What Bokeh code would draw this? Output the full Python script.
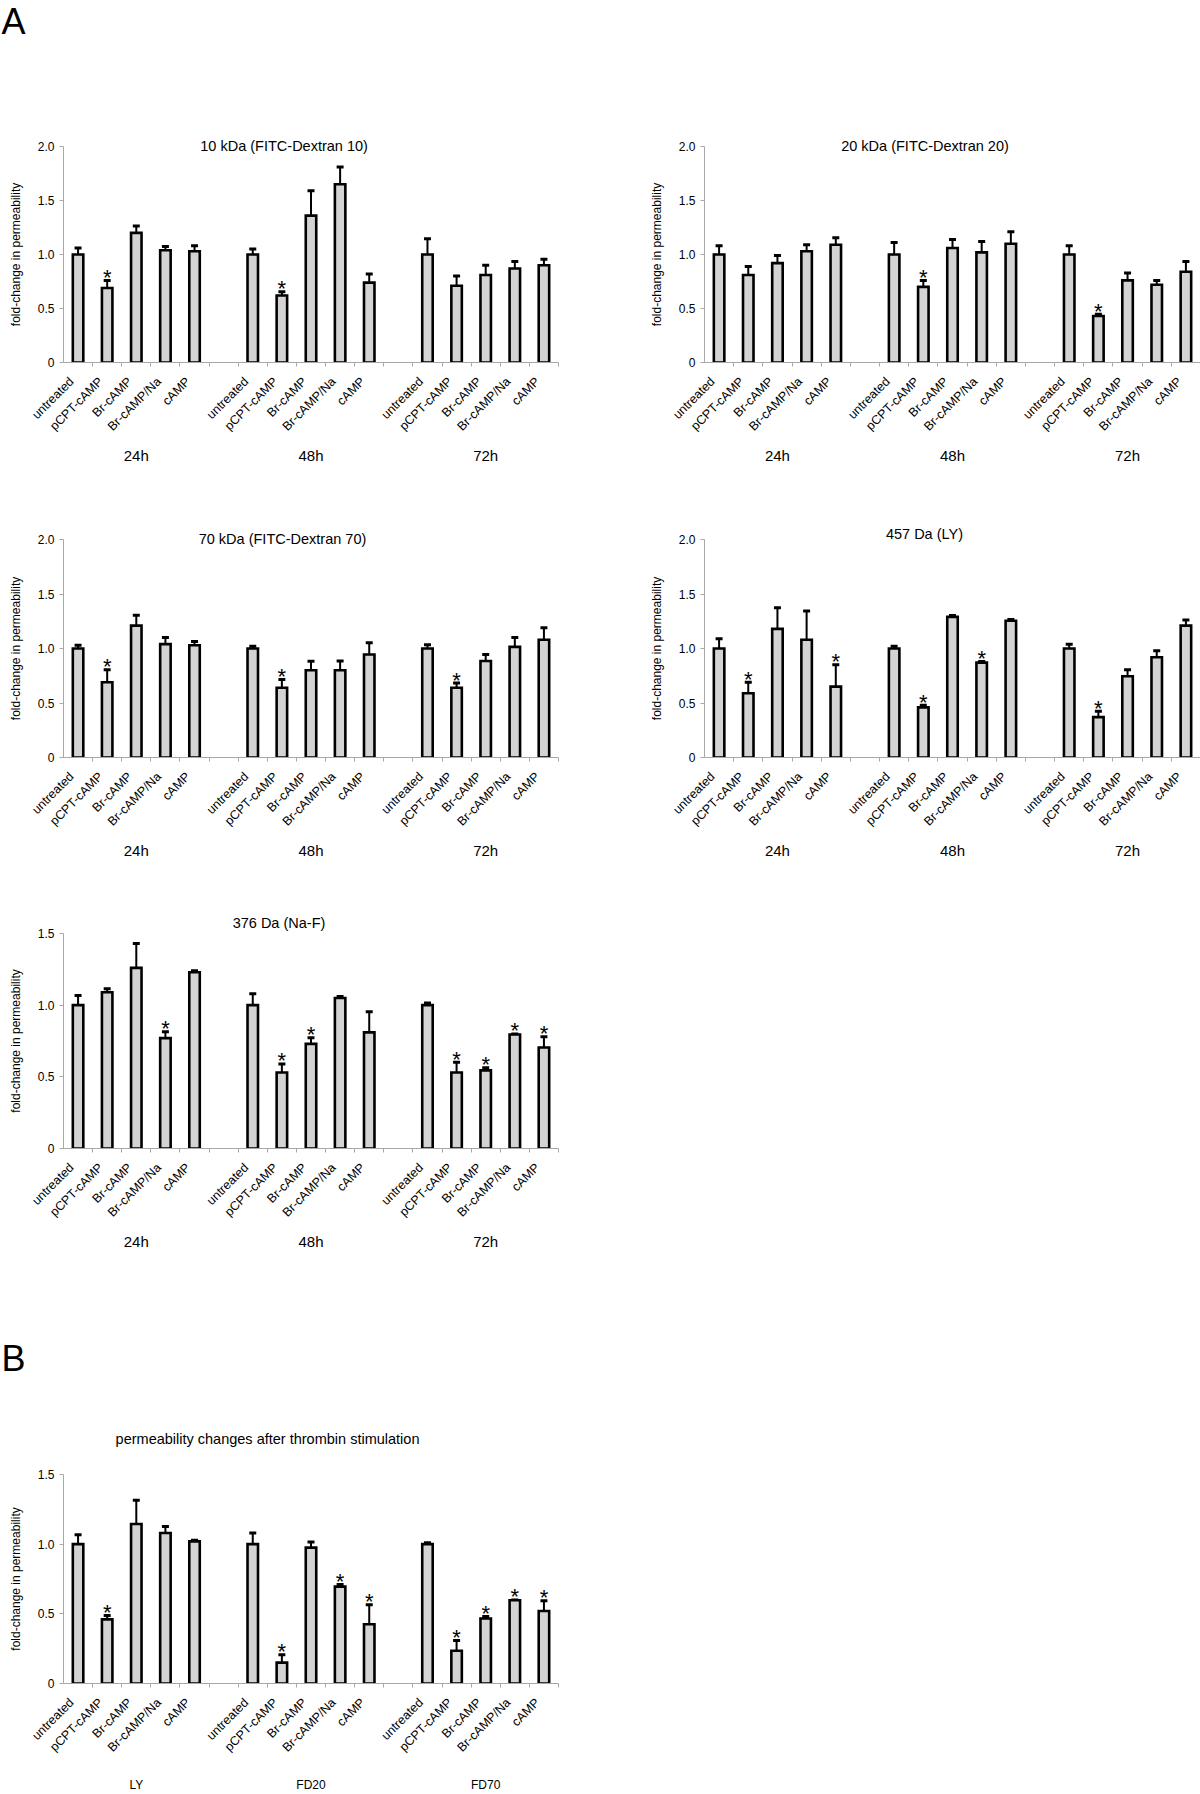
import math
from bokeh.plotting import figure
from bokeh.layouts import column, row
from bokeh.models import (ColumnDataSource, FixedTicker, CustomJSTickFormatter,
                          LinearAxis, Range1d, Title)
from bokeh.core.properties import value
from bokeh.embed import file_html
from bokeh.resources import INLINE

# ---------------- data ----------------
treatments = ["untreated", "pCPT-cAMP", "Br-cAMP", "Br-cAMP/Na", "cAMP"]
time_groups = ["24h", "48h", "72h"]
tracer_groups = ["LY", "FD20", "FD70"]

fd10_mean = [1.00, 0.69, 1.20, 1.04, 1.03, 1.00, 0.62, 1.36, 1.65, 0.74, 1.00, 0.71, 0.81, 0.87, 0.90]
fd10_err = [0.06, 0.07, 0.065, 0.035, 0.05, 0.05, 0.035, 0.23, 0.16, 0.08, 0.145, 0.09, 0.09, 0.065, 0.055]
fd10_sig = [0, 1, 0, 0, 0, 0, 1, 0, 0, 0, 0, 0, 0, 0, 0]

fd20_mean = [1.00, 0.81, 0.92, 1.03, 1.09, 1.00, 0.70, 1.06, 1.02, 1.10, 1.00, 0.43, 0.76, 0.72, 0.84]
fd20_err = [0.08, 0.08, 0.07, 0.06, 0.065, 0.11, 0.06, 0.08, 0.10, 0.11, 0.08, 0.017, 0.068, 0.04, 0.095]
fd20_sig = [0, 0, 0, 0, 0, 0, 1, 0, 0, 0, 0, 1, 0, 0, 0]

fd70_mean = [1.00, 0.69, 1.21, 1.04, 1.03, 1.00, 0.64, 0.80, 0.80, 0.945, 1.00, 0.64, 0.885, 1.015, 1.08]
fd70_err = [0.03, 0.115, 0.095, 0.06, 0.035, 0.02, 0.075, 0.083, 0.085, 0.107, 0.035, 0.043, 0.06, 0.085, 0.11]
fd70_sig = [0, 1, 0, 0, 0, 0, 1, 0, 0, 0, 0, 1, 0, 0, 0]

ly_mean = [1.00, 0.59, 1.18, 1.08, 0.65, 1.00, 0.46, 1.29, 0.87, 1.255, 1.00, 0.37, 0.745, 0.92, 1.21]
ly_err = [0.09, 0.10, 0.195, 0.265, 0.20, 0.02, 0.02, 0.012, 0.01, 0.01, 0.04, 0.055, 0.06, 0.06, 0.052]
ly_sig = [0, 1, 0, 0, 1, 0, 1, 0, 1, 0, 0, 1, 0, 0, 0]

naf_mean = [1.00, 1.09, 1.26, 0.77, 1.23, 1.00, 0.53, 0.73, 1.05, 0.81, 1.00, 0.53, 0.545, 0.795, 0.705]
naf_err = [0.068, 0.025, 0.17, 0.045, 0.01, 0.08, 0.06, 0.042, 0.011, 0.144, 0.015, 0.072, 0.019, 0.004, 0.075]
naf_sig = [0, 0, 0, 1, 0, 0, 1, 1, 0, 0, 0, 1, 1, 1, 1]

thr_mean = [1.00, 0.46, 1.145, 1.08, 1.02, 1.00, 0.15, 0.975, 0.695, 0.425, 1.00, 0.235, 0.467, 0.597, 0.52]
thr_err = [0.068, 0.028, 0.17, 0.046, 0.008, 0.08, 0.056, 0.04, 0.016, 0.14, 0.01, 0.074, 0.014, 0.003, 0.074]
thr_sig = [0, 1, 0, 0, 0, 0, 1, 0, 1, 1, 0, 1, 1, 1, 1]

y_ticks_20 = [0, 0.5, 1.0, 1.5, 2.0]
y_ticks_15 = [0, 0.5, 1.0, 1.5]

# ---------------- style ----------------
FONT = "Liberation Sans"
AXIS_GRAY = "#a8a8a8"
BAR_FILL = "#d3d3d3"
TITLE_PX = 14.5
LABEL_SHIFT = 0.22   # rotated labels end slightly left of the bar centre

# Arial / Liberation Sans advance widths (1/1000 em), used to centre titles
_W = {' ': 278, '(': 333, ')': 333, '-': 333, 'A': 667, 'C': 722, 'D': 722, 'F': 611,
      'I': 278, 'L': 556, 'N': 722, 'T': 611, 'Y': 667, 'a': 556, 'b': 556, 'c': 500,
      'e': 556, 'f': 278, 'g': 556, 'h': 556, 'i': 222, 'k': 500, 'l': 222, 'm': 833,
      'n': 556, 'o': 556, 'p': 556, 'r': 333, 's': 500, 't': 278, 'u': 556, 'x': 500,
      'y': 500}


def text_width(s, px):
    return sum(_W.get(ch, 556) for ch in s) / 1000.0 * px


def make_panel(title, groups, means, errs, sigs, y_max, y_ticks,
               width, height, mb_left, mb_right, mb_top, mb_bottom, x_end,
               title_cx, title_standoff, group_font, group_standoff):
    n_t = len(treatments)
    xs, labels = [], []
    for g in range(len(groups)):
        for i, t in enumerate(treatments):
            xs.append(g * (n_t + 1) + i + 0.5)
            labels.append(t)
    tops = [m + e for m, e in zip(means, errs)]
    src = ColumnDataSource(dict(
        x=xs, mean=means, top=tops,
        cap_l=[x - 0.12 for x in xs], cap_r=[x + 0.12 for x in xs]))
    star_idx = [k for k, s in enumerate(sigs) if s]
    star_src = ColumnDataSource(dict(
        x=[xs[k] for k in star_idx], y=[tops[k] for k in star_idx],
        t=["*" for _ in star_idx]))

    ttl = Title(text=title, align="left",
                offset=title_cx - text_width(title, TITLE_PX) / 2,
                standoff=title_standoff, vertical_align="bottom",
                text_font=FONT, text_font_size=f"{TITLE_PX}px",
                text_font_style="normal", text_color="black")

    p = figure(width=width, height=height, output_backend="svg", toolbar_location=None,
               x_range=Range1d(0, x_end), y_range=Range1d(0, y_max), title=ttl,
               min_border_left=mb_left, min_border_right=mb_right,
               min_border_top=mb_top, min_border_bottom=mb_bottom)
    p.outline_line_color = None
    p.xgrid.visible = False
    p.ygrid.visible = False
    p.background_fill_color = "white"
    p.border_fill_color = "white"

    # x axis: minor ticks at slot boundaries, treatment labels rotated 45 deg
    n_slots = len(groups) * (n_t + 1)
    label_pos = [x - LABEL_SHIFT for x in xs]
    xa = p.xaxis[0]
    xa.ticker = FixedTicker(ticks=label_pos, minor_ticks=list(range(1, n_slots + 1)))
    xa.formatter = CustomJSTickFormatter(args=dict(pos=label_pos, names=labels), code="""
        const i = pos.findIndex((q) => Math.abs(q - tick) < 1e-6);
        return i < 0 ? "" : names[i];
    """)
    xa.major_label_orientation = math.pi / 4
    xa.major_tick_out = 0
    xa.major_tick_in = 0
    xa.minor_tick_out = 4
    xa.minor_tick_in = 0
    xa.minor_tick_line_color = AXIS_GRAY
    xa.axis_line_color = AXIS_GRAY
    xa.major_label_text_font = FONT
    xa.major_label_text_font_size = "12.5px"
    xa.major_label_text_color = "black"
    xa.major_label_standoff = 13

    # group labels (time points / tracers) on a second axis below
    centers = [g * (n_t + 1) + (n_t - 1) / 2 + 0.5 for g in range(len(groups))]
    ga = LinearAxis(
        ticker=FixedTicker(ticks=centers, minor_ticks=[]),
        formatter=CustomJSTickFormatter(args=dict(pos=centers, names=groups), code="""
            const i = pos.findIndex((q) => Math.abs(q - tick) < 1e-6);
            return i < 0 ? "" : names[i];
        """),
        axis_line_color=None, major_tick_line_color=None, minor_tick_line_color=None,
        major_tick_out=0, major_tick_in=0, minor_tick_out=0, minor_tick_in=0,
        major_label_standoff=group_standoff,
        major_label_text_font=FONT, major_label_text_font_size=group_font,
        major_label_text_color="black")
    p.add_layout(ga, "below")

    ya = p.yaxis[0]
    ya.ticker = FixedTicker(ticks=y_ticks, minor_ticks=[])
    ya.formatter = CustomJSTickFormatter(code="return tick === 0 ? '0' : tick.toFixed(1);")
    ya.major_tick_out = 4
    ya.major_tick_in = 0
    ya.minor_tick_out = 0
    ya.minor_tick_in = 0
    ya.axis_line_color = AXIS_GRAY
    ya.major_tick_line_color = AXIS_GRAY
    ya.major_label_text_font = FONT
    ya.major_label_text_font_size = "12px"
    ya.major_label_text_color = "black"
    ya.major_label_standoff = 5
    ya.axis_label = "fold-change in permeability"
    ya.axis_label_text_font = FONT
    ya.axis_label_text_font_size = "12px"
    ya.axis_label_text_font_style = "normal"
    ya.axis_label_text_color = "black"
    ya.axis_label_standoff = 12

    # upper error bars, bars, significance stars
    p.segment(x0="x", y0="mean", x1="x", y1="top", source=src,
              line_color="black", line_width=2)
    p.segment(x0="cap_l", y0="top", x1="cap_r", y1="top", source=src,
              line_color="black", line_width=3)
    p.vbar(x="x", top="mean", bottom=0, width=0.36, source=src,
           fill_color=BAR_FILL, line_color="black", line_width=2.6, line_join="miter")
    p.text(x="x", y="y", text="t", source=star_src,
           text_font=value(FONT), text_font_size="22px", text_color="black",
           text_align="center", text_baseline="alphabetic", y_offset=-3)
    return p


def letter_panel(letter, width, height):
    """A blank strip whose title is the panel letter, set at its top-left corner."""
    ttl = Title(text=letter, align="left", offset=1, standoff=0, vertical_align="top",
                text_font=FONT, text_font_size="36px", text_font_style="normal",
                text_color="black")
    f = figure(width=width, height=height, output_backend="svg", toolbar_location=None,
               x_range=Range1d(0, 1), y_range=Range1d(0, 1), title=ttl,
               x_axis_type=None, y_axis_type=None, min_border=0, frame_align=False)
    f.outline_line_color = None
    f.background_fill_color = "white"
    f.border_fill_color = "white"
    return f


LEFT = dict(width=600, mb_left=63, mb_right=42, x_end=17)
RIGHT = dict(width=600, mb_left=104, mb_right=0, x_end=17)

figA = letter_panel("A", 1200, 50)
p1 = make_panel("10 kDa (FITC-Dextran 10)", time_groups, fd10_mean, fd10_err, fd10_sig,
                2.0, y_ticks_20, height=430, mb_top=96, mb_bottom=118,
                title_cx=220.6, title_standoff=-14, group_font="15px", group_standoff=5, **LEFT)
p2 = make_panel("20 kDa (FITC-Dextran 20)", time_groups, fd20_mean, fd20_err, fd20_sig,
                2.0, y_ticks_20, height=430, mb_top=96, mb_bottom=118,
                title_cx=220.5, title_standoff=-14, group_font="15px", group_standoff=5, **RIGHT)
p3 = make_panel("70 kDa (FITC-Dextran 70)", time_groups, fd70_mean, fd70_err, fd70_sig,
                2.0, y_ticks_20, height=390, mb_top=59, mb_bottom=113,
                title_cx=219, title_standoff=-14, group_font="15px", group_standoff=5, **LEFT)
p4 = make_panel("457 Da (LY)", time_groups, ly_mean, ly_err, ly_sig,
                2.0, y_ticks_20, height=390, mb_top=59, mb_bottom=113,
                title_cx=220.5, title_standoff=-4, group_font="15px", group_standoff=5, **RIGHT)
p5 = make_panel("376 Da (Na-F)", time_groups, naf_mean, naf_err, naf_sig,
                1.5, y_ticks_15, height=467, mb_top=63, mb_bottom=189,
                title_cx=215.5, title_standoff=6, group_font="15px", group_standoff=5, **LEFT)
figB = letter_panel("B", 1200, 50)
p6 = make_panel("permeability changes after thrombin stimulation", tracer_groups,
                thr_mean, thr_err, thr_sig,
                1.5, y_ticks_15, height=407, mb_top=87, mb_bottom=104,
                title_cx=204, title_standoff=56, group_font="12px", group_standoff=15, **LEFT)

layout = column(figA, row(p1, p2), row(p3, p4), p5, figB, p6)
open("out.html", "w").write(file_html(layout, INLINE))
